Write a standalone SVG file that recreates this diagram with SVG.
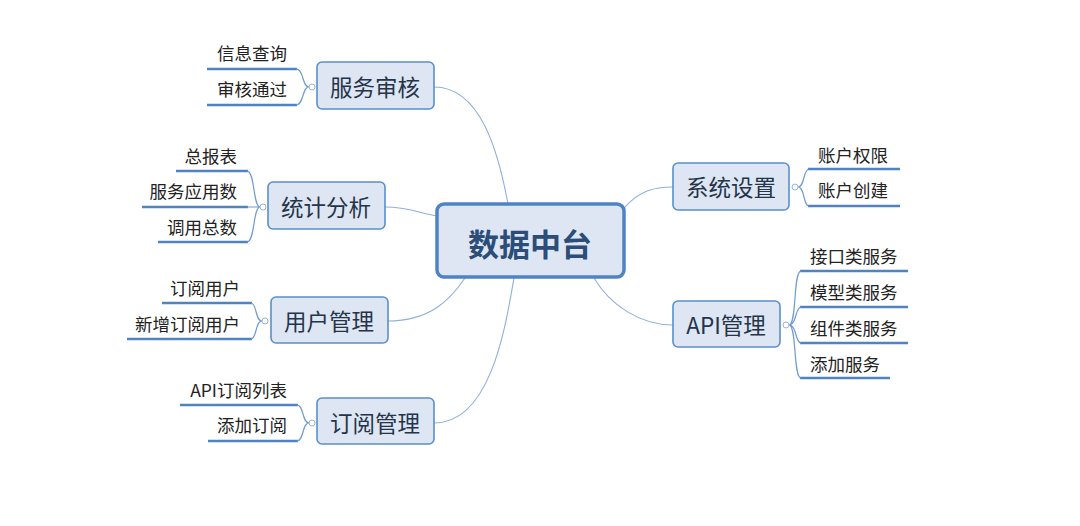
<svg xmlns="http://www.w3.org/2000/svg" width="1080" height="526" viewBox="0 0 1080 526">
<style>
text{font-family:"Noto Sans CJK SC","Liberation Sans",sans-serif;}
.main{fill:#dde6f2;stroke:#4f83c4;stroke-width:3.5;}
.branch{fill:#dde6f2;stroke:#5b8fcb;stroke-width:1.6;}
.bt{font-size:22.5px;fill:#24344a;text-anchor:middle;dominant-baseline:central;}
.ct{font-size:17.5px;fill:#222;dominant-baseline:central;}
.ul{stroke:#4f83c4;stroke-width:2.6;fill:none;}
.br{stroke:#6f9bd0;stroke-width:1.2;fill:none;}
.cn{stroke:#8fb0da;stroke-width:1.1;fill:none;}
.dot{fill:#fff;stroke:#9ab3d4;stroke-width:1;}
</style>
<rect width="1080" height="526" fill="#fff"/>
<g id="connectors">
<path class="cn" d="M434,87 C480,87 498,150 508,204"/>
<path class="cn" d="M385,207 C410,207 420,214 438,216"/>
<path class="cn" d="M388,321 C430,321 450,300 465,278"/>
<path class="cn" d="M434,423 C490,423 505,330 514,278"/>
<path class="cn" d="M624,208 C640,190 655,187 673,187"/>
<path class="cn" d="M594,278 C610,305 640,325 673,325"/>
</g>
<g id="center">
<rect class="main" x="437" y="204" width="187" height="73" rx="7"/>
<text x="530" y="242" style="font-size:31px;font-weight:bold;fill:#2b4d78;text-anchor:middle;dominant-baseline:central">数据中台</text>
</g>
<g id="fwsh">
<rect class="branch" x="317" y="62" width="117" height="47" rx="5"/>
<text class="bt" x="375" y="86">服务审核</text>
<path class="ul" d="M207,69 H297"/><path class="ul" d="M207,105 H297"/>
<path class="br" d="M309,87 C302,87 304,69 296,69 M309,87 C302,87 304,105 296,105"/>
<circle class="dot" cx="312" cy="87" r="3"/>
<text class="ct" x="287" y="52" text-anchor="end">信息查询</text>
<text class="ct" x="287" y="88" text-anchor="end">审核通过</text>
</g>
<g id="tjfx">
<rect class="branch" x="268" y="182" width="117" height="47" rx="5"/>
<text class="bt" x="326" y="206">统计分析</text>
<path class="ul" d="M176,171 H248"/><path class="ul" d="M142,207 H248"/><path class="ul" d="M158,242 H248"/>
<path class="br" d="M260,207 C253,207 255,171 247,171 M260,207 H247 M260,207 C253,207 255,242 247,242"/>
<circle class="dot" cx="263" cy="207" r="3"/>
<text class="ct" x="237" y="155" text-anchor="end">总报表</text>
<text class="ct" x="237" y="190" text-anchor="end">服务应用数</text>
<text class="ct" x="237" y="226" text-anchor="end">调用总数</text>
</g>
<g id="yhgl">
<rect class="branch" x="271" y="297" width="117" height="46" rx="5"/>
<text class="bt" x="329" y="320">用户管理</text>
<path class="ul" d="M162,303 H252"/><path class="ul" d="M127,339 H252"/>
<path class="br" d="M262,321 C255,321 257,303 251,303 M262,321 C255,321 257,339 251,339"/>
<circle class="dot" cx="265" cy="321" r="3"/>
<text class="ct" x="240" y="287" text-anchor="end">订阅用户</text>
<text class="ct" x="240" y="323" text-anchor="end">新增订阅用户</text>
</g>
<g id="dygl">
<rect class="branch" x="317" y="398" width="117" height="46" rx="5"/>
<text class="bt" x="375" y="422">订阅管理</text>
<path class="ul" d="M180,405 H298"/><path class="ul" d="M208,441 H298"/>
<path class="br" d="M309,423 C302,423 304,405 297,405 M309,423 C302,423 304,441 297,441"/>
<circle class="dot" cx="312" cy="423" r="3"/>
<text class="ct" x="287" y="389" text-anchor="end">API订阅列表</text>
<text class="ct" x="287" y="424" text-anchor="end">添加订阅</text>
</g>
<g id="xtsz">
<rect class="branch" x="673" y="163" width="116" height="47" rx="5"/>
<text class="bt" x="731" y="186">系统设置</text>
<path class="ul" d="M808,169 H900"/><path class="ul" d="M808,206 H900"/>
<path class="br" d="M798,187 C805,187 803,169 809,169 M798,187 C805,187 803,206 809,206"/>
<circle class="dot" cx="795" cy="187" r="3"/>
<text class="ct" x="818" y="154">账户权限</text>
<text class="ct" x="818" y="189">账户创建</text>
</g>
<g id="apigl">
<rect class="branch" x="673" y="301" width="107" height="46" rx="5"/>
<text class="bt" x="726" y="324">API管理</text>
<path class="ul" d="M800,271 H908"/><path class="ul" d="M800,307 H908"/><path class="ul" d="M800,343 H908"/><path class="ul" d="M800,378 H890"/>
<path class="br" d="M789,325 C797,325 793,271 801,271 M789,325 C797,325 795,307 801,307 M789,325 C797,325 795,343 801,343 M789,325 C797,325 793,378 801,378"/>
<circle class="dot" cx="786" cy="325" r="3"/>
<text class="ct" x="810" y="255">接口类服务</text>
<text class="ct" x="810" y="291">模型类服务</text>
<text class="ct" x="810" y="327">组件类服务</text>
<text class="ct" x="810" y="363">添加服务</text>
</g>
</svg>
